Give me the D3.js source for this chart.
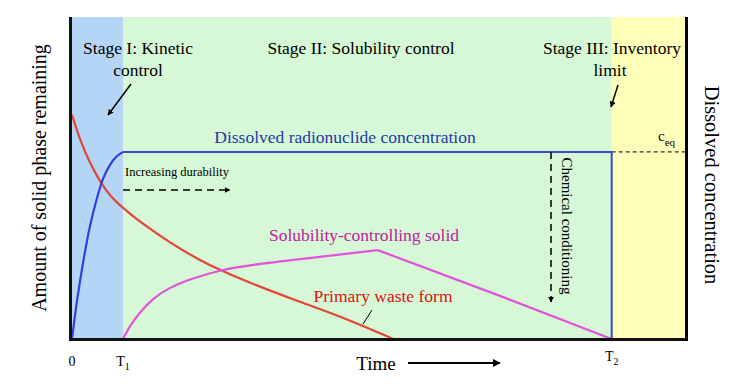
<!DOCTYPE html>
<html>
<head>
    <meta charset="utf-8">
    <title>Stages of radionuclide release</title>
    <style>
        body { margin: 0; background: #fff; }
    </style>
</head>
<body>
    <svg width="748" height="388" font-family="'Liberation Serif', 'Times New Roman', Tinos, 'DejaVu Serif', serif"></svg>
    <script src="https://d3js.org/d3.v7.min.js"></script>
    <script>
        // time in arbitrary units, amounts in % of full height
        const T1 = 8.3;
        const T2 = 87.9;
        const ceq = 58.1;
        const stages = [
            { from: 0, to: T1, color: '#b5d5f7' },
            { from: T1, to: T2, color: '#d6f8d6' },
            { from: T2, to: 100, color: '#ffffba' }
        ];
        const tickValues = [0, T1, T2];
        const tickLabels = [['0', null], ['T', '1'], ['T', '2']];

        const wasteT = [0, 1.3, 2.9, 4.6, 6.2, 8.3, 11.1, 16.0, 20.8, 24.1, 29.0, 37.1, 45.3, 52.3];
        const wasteV = [69.6, 61.8, 54.7, 48.8, 44.4, 40.7, 36.3, 29.8, 24.5, 21.4, 17.4, 11.5, 5.9, 0];

        const dissolvedT = [0, 0.8, 1.8, 2.9, 4.1, 5.0, 6.2, 7.2, 8.3];
        const dissolvedV = [0, 12.1, 23.9, 35.4, 44.1, 50.0, 54.3, 56.8, 58.1];

        const solidRiseT = [8.3, 9.4, 11.1, 13.2, 16.0, 19.2, 24.1, 29.0, 37.1, 49.8];
        const solidRiseV = [0, 4.0, 8.4, 12.7, 16.1, 18.6, 21.4, 23.0, 24.8, 27.6];
        const solidFallT = [49.8, 69.7, 87.9];
        const solidFallV = [27.6, 13.4, 0];

        const svg = d3.select('svg');
        const margin = { top: 17, right: 62, bottom: 49, left: 72 };
        const width = +svg.attr('width');
        const height = +svg.attr('height');
        const innerWidth = width - margin.left - margin.right;
        const innerHeight = height - margin.top - margin.bottom;

        const x = d3.scaleLinear().domain([0, 100]).range([0, innerWidth]);
        const y = d3.scaleLinear().domain([0, 100]).range([innerHeight, 0]);

        const defs = svg.append('defs');
        defs.append('marker').attr('id', 'head')
            .attr('viewBox', '0 0 10 10').attr('refX', 9).attr('refY', 5)
            .attr('markerWidth', 4).attr('markerHeight', 4).attr('orient', 'auto')
            .append('path').attr('d', 'M0,0L10,5L0,10Z').attr('fill', '#000');

        const g = svg.append('g').attr('transform', `translate(${margin.left},${margin.top})`);

        g.selectAll('rect.stage').data(stages).enter().append('rect')
            .attr('class', 'stage')
            .attr('x', d => x(d.from))
            .attr('y', 0)
            .attr('width', d => x(d.to) - x(d.from))
            .attr('height', innerHeight)
            .attr('fill', d => d.color);

        const zip = (a, b) => a.map((v, i) => [v, b[i]]);
        const smooth = d3.line().x(d => x(d[0])).y(d => y(d[1])).curve(d3.curveBasis);
        const straight = d3.line().x(d => x(d[0])).y(d => y(d[1]));

        // ceq dashed extension
        g.append('line')
            .attr('x1', x(T2)).attr('x2', x(100))
            .attr('y1', y(ceq)).attr('y2', y(ceq))
            .attr('stroke', '#000').attr('stroke-width', 1).attr('stroke-dasharray', '4,3');

        g.append('path').datum(zip(wasteT, wasteV))
            .attr('d', smooth).attr('fill', 'none')
            .attr('stroke', '#e0463a').attr('stroke-width', 2.2);

        g.append('path').datum(zip(solidRiseT, solidRiseV))
            .attr('d', smooth).attr('fill', 'none')
            .attr('stroke', '#e055d8').attr('stroke-width', 2.2);
        g.append('path').datum(zip(solidFallT, solidFallV))
            .attr('d', straight).attr('fill', 'none')
            .attr('stroke', '#e055d8').attr('stroke-width', 2.2);

        g.append('path').datum(zip(dissolvedT, dissolvedV))
            .attr('d', smooth).attr('fill', 'none')
            .attr('stroke', '#2f3fe0').attr('stroke-width', 2.2);

        g.append('path').datum([[T1, ceq], [T2, ceq], [T2, 0]])
            .attr('d', straight).attr('fill', 'none')
            .attr('stroke', '#3a4ec0').attr('stroke-width', 2);

        // frame
        g.append('line').attr('x1', -1.5).attr('x2', -1.5).attr('y1', 0).attr('y2', innerHeight + 1.5)
            .attr('stroke', '#111').attr('stroke-width', 3);
        g.append('line').attr('x1', -3).attr('x2', x(100) + 1.5).attr('y1', innerHeight + 0.5).attr('y2', innerHeight + 0.5)
            .attr('stroke', '#111').attr('stroke-width', 3);
        g.append('line').attr('x1', x(100) + 0.5).attr('x2', x(100) + 0.5).attr('y1', 0).attr('y2', innerHeight + 2)
            .attr('stroke', '#000').attr('stroke-width', 3);

        // tick labels
        const tl = g.selectAll('text.tick').data(tickValues).enter().append('text')
            .attr('class', 'tick')
            .attr('x', d => x(d))
            .attr('y', (d, i) => innerHeight + (i === 2 ? 22 : 27))
            .attr('text-anchor', 'middle')
            .attr('font-size', 14);
        tl.append('tspan').text((d, i) => tickLabels[i][0]);
        tl.filter((d, i) => tickLabels[i][1]).append('tspan')
            .attr('font-size', 10).attr('dy', 4).text((d, i) => tickLabels[tickValues.indexOf(d)][1]);

        const label = (tx, ty, str, opts = {}) => g.append('text')
            .attr('x', tx).attr('y', ty)
            .attr('text-anchor', opts.anchor || 'middle')
            .attr('font-size', opts.size || 17.5)
            .attr('fill', opts.color || '#000')
            .attr('transform', opts.rotate ? `rotate(${opts.rotate},${tx},${ty})` : null)
            .text(str);

        const ox = -margin.left, oy = -margin.top;
        label(138 + ox, 54 + oy, 'Stage I: Kinetic');
        label(138 + ox, 76 + oy, 'control');
        label(361 + ox, 54 + oy, 'Stage II: Solubility control');
        label(612 + ox, 54 + oy, 'Stage III: Inventory');
        label(610 + ox, 76 + oy, 'limit');
        label(345 + ox, 143 + oy, 'Dissolved radionuclide concentration', { color: '#1f3aa8' });
        label(177 + ox, 176 + oy, 'Increasing durability', { size: 12.5 });
        label(364 + ox, 241 + oy, 'Solubility-controlling solid', { color: '#c0229e' });
        label(383 + ox, 302 + oy, 'Primary waste form', { color: '#e01010' });
        label(562 + ox, 226 + oy, 'Chemical conditioning', { size: 15, rotate: 90 });
        label(376 + ox, 370 + oy, 'Time', { size: 19 });
        label(46 + ox, 178 + oy, 'Amount of solid phase remaining', { size: 20, rotate: -90 });
        label(705 + ox, 185 + oy, 'Dissolved concentration', { size: 20.5, rotate: 90 });

        const ceqText = g.append('text').attr('x', 658 + ox).attr('y', 141 + oy)
            .attr('text-anchor', 'start').attr('font-size', 15);
        ceqText.append('tspan').text('c');
        ceqText.append('tspan').attr('font-size', 11).attr('dy', 5).text('eq');

        // arrows
        const arrow = (x1, y1, x2, y2, dashed, w) => g.append('line')
            .attr('x1', x1 + ox).attr('y1', y1 + oy).attr('x2', x2 + ox).attr('y2', y2 + oy)
            .attr('stroke', '#000').attr('stroke-width', w || 1.5)
            .attr('stroke-dasharray', dashed ? '7,5' : null)
            .attr('marker-end', 'url(#head)');

        arrow(131, 84, 108, 115);
        arrow(618, 85, 611, 107);
        arrow(123, 190, 230, 190, true);
        arrow(551, 152, 551, 302, true);
        arrow(408, 363, 500, 363, false, 2);

        g.append('line')
            .attr('x1', 363 + ox).attr('y1', 324 + oy).attr('x2', 372 + ox).attr('y2', 310 + oy)
            .attr('stroke', '#000').attr('stroke-width', 1);
    </script>
</body>
</html>
